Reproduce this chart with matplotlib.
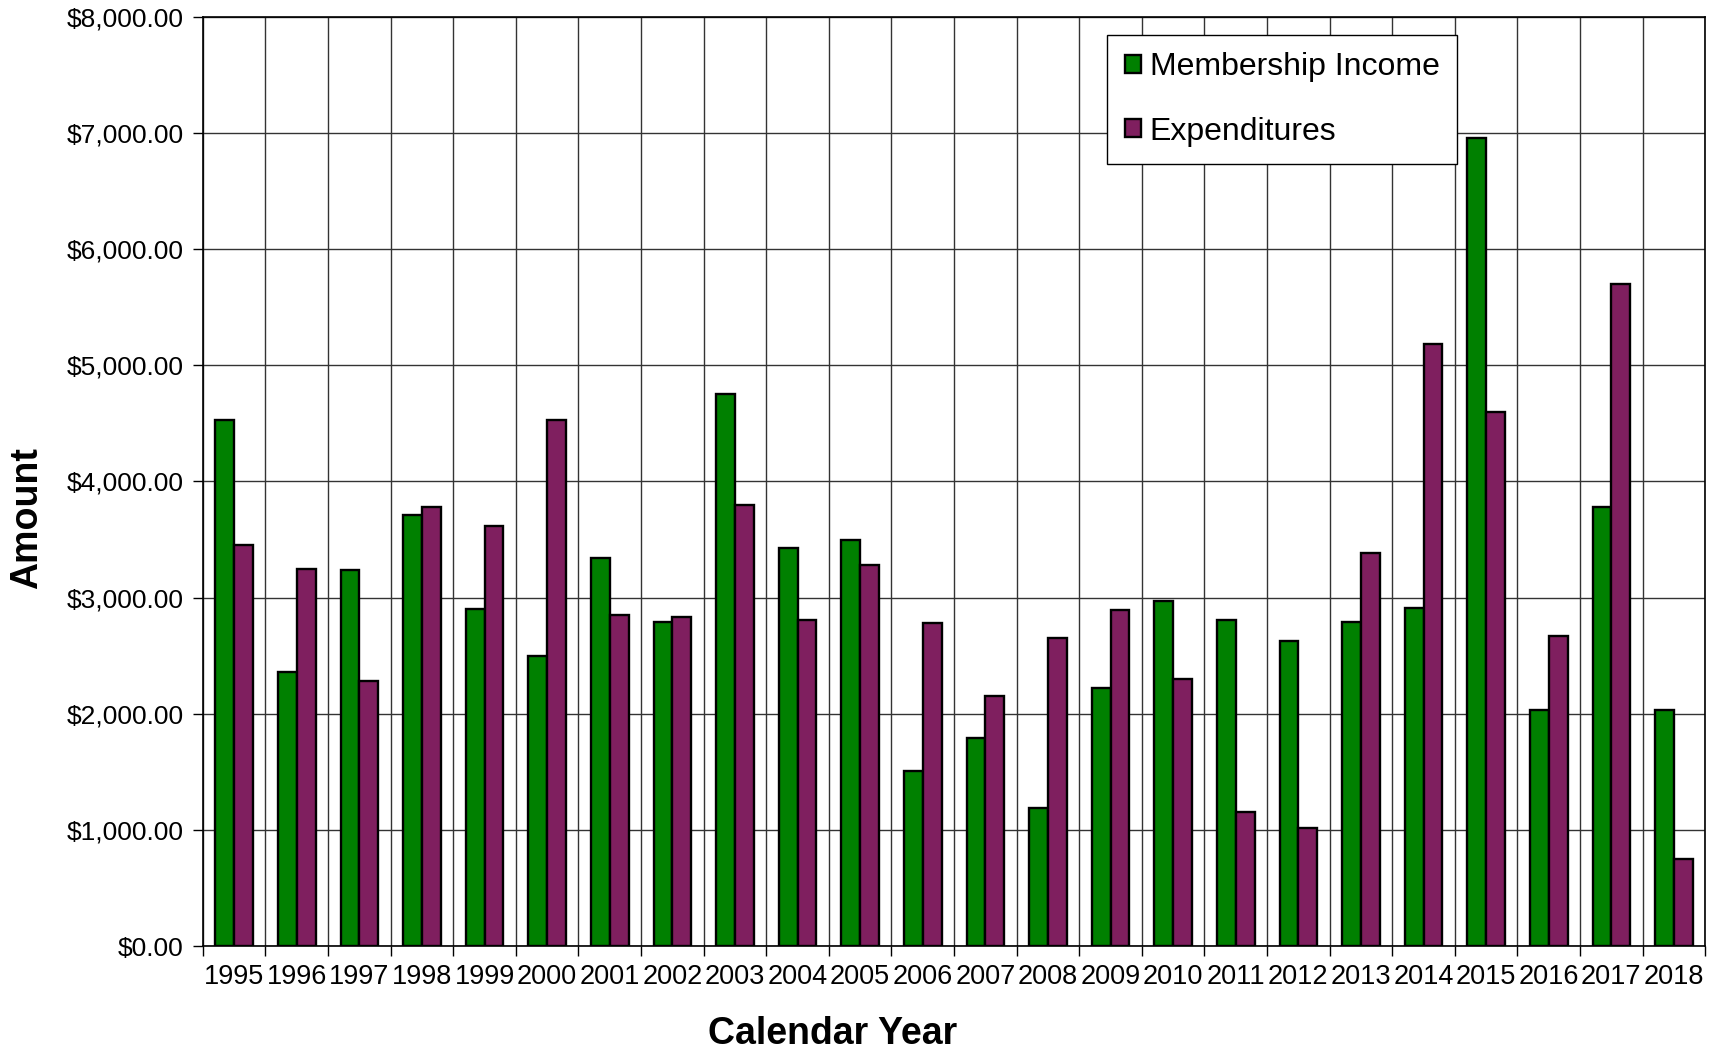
import matplotlib
matplotlib.use("Agg")
import matplotlib.pyplot as plt
import numpy as np
from matplotlib.ticker import FuncFormatter, FixedLocator, MultipleLocator

years = [str(y) for y in range(1995, 2019)]
membership_income = [4530, 2360, 3240, 3710, 2900, 2500, 3340, 2790, 4750, 3430,
                     3500, 1510, 1790, 1190, 2220, 2970, 2810, 2630, 2790, 2910,
                     6960, 2030, 3780, 2030]
expenditures = [3450, 3250, 2280, 3780, 3620, 4530, 2850, 2830, 3800, 2810,
                3280, 2780, 2150, 2650, 2890, 2300, 1150, 1020, 3380, 5180,
                4600, 2670, 5700, 750]

plt.rcParams['font.family'] = ['Liberation Sans', 'DejaVu Sans']

fig = plt.figure(figsize=(17.19, 10.51), dpi=100)
ax = fig.add_axes([0.118, 0.0999, 0.874, 0.884])

x = np.arange(len(years))
w = 0.3
ax.bar(x - w/2, membership_income, width=w, color='#008000', edgecolor='black',
       linewidth=1.7, label='Membership Income', zorder=3)
ax.bar(x + w/2, expenditures, width=w, color='#7F1F5F', edgecolor='black',
       linewidth=1.7, label='Expenditures', zorder=3)

ax.set_xlim(-0.5, len(years) - 0.5)
ax.set_ylim(0, 8000)

ax.yaxis.set_major_locator(MultipleLocator(1000))
ax.yaxis.set_major_formatter(FuncFormatter(lambda v, p: "${:,.2f}".format(v)))

ax.xaxis.set_major_locator(FixedLocator(np.arange(-0.5, len(years), 1.0)))
ax.xaxis.set_major_formatter(FuncFormatter(lambda v, p: ""))
ax.set_xticks(x, minor=True)
ax.set_xticklabels(years, minor=True)

ax.tick_params(axis='x', which='major', direction='out', length=7, width=1, color='black')
ax.tick_params(axis='x', which='minor', length=0, pad=13, labelsize=19.5)
ax.tick_params(axis='y', direction='out', length=7, width=1, pad=7, labelsize=19)

ax.grid(True, which='major', axis='both', color='#333333', linewidth=1, zorder=0)
ax.set_axisbelow(True)
for s in ax.spines.values():
    s.set_color('black')
    s.set_linewidth(1.2)

fig.text(27 / 1719, 1 - 518 / 1051, 'Amount', rotation=90, ha='center', va='center',
         fontsize=27, fontweight='bold')
fig.text(833 / 1719, 1 - 1034 / 1051, 'Calendar Year', ha='center', va='center',
         fontsize=27, fontweight='bold')

leg = ax.legend(loc='upper left', bbox_to_anchor=(0.602, 0.981), fontsize=23,
                frameon=True, fancybox=False, shadow=False, framealpha=1,
                edgecolor='black', handlelength=0.5, handleheight=0.5,
                handletextpad=0.28, labelspacing=1.08, borderpad=0.55,
                borderaxespad=0)
leg.get_frame().set_linewidth(1)

fig.savefig('out.png', dpi=100)
